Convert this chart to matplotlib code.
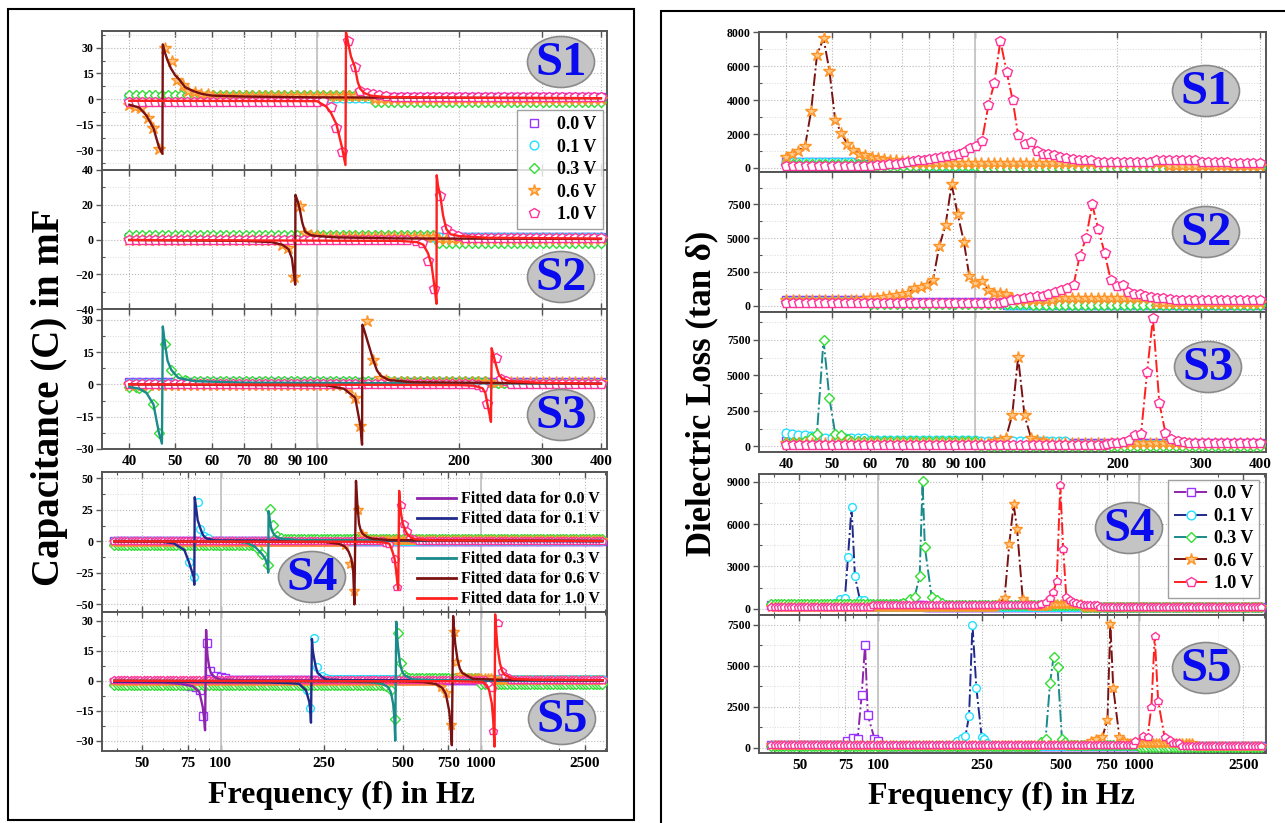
import numpy as np
import matplotlib
matplotlib.use('Agg')
import matplotlib.pyplot as plt
from matplotlib.patches import Ellipse, Rectangle
from matplotlib.lines import Line2D
from matplotlib.ticker import FixedLocator, NullFormatter, FixedFormatter

W, H = 1285, 823
plt.rcParams['font.family'] = ['Liberation Serif', 'DejaVu Serif']
plt.rcParams['font.weight'] = 'bold'

# ---------------- common categories / styles ----------------
voltages = ['0.0 V', '0.1 V', '0.3 V', '0.6 V', '1.0 V']
marker_shapes = ['s', 'o', 'D', '*', 'p']
marker_edge = ['#9933ff', '#22e0ff', '#33dd33', '#ff9326', '#ff3399']
marker_face = ['white', 'white', 'white', '#ffc98a', 'white']
line_colors = ['#8e24aa', '#1f2a8a', '#1b8a8a', '#7a1212', '#ff2020']

# measurement sweeps (x positions of the recorded points)
sweep_top = np.geomspace(40, 400, 74)
sweep_bot = np.geomspace(39, 2930, 150)

top_ticks = [40, 50, 60, 70, 80, 90, 100, 200, 300, 400]
top_labels = ['40', '50', '60', '70', '80', '90', '100', '200', '300', '400']
bot_ticks = [50, 75, 100, 250, 500, 750, 1000, 2500]
bot_labels = ['50', '75', '100', '250', '500', '750', '1000', '2500']
bot_minor = [40, 60, 70, 80, 90, 200, 300, 400, 600, 700, 800, 900, 2000, 3000]

# ================= LEFT: Capacitance (mF) =================
# baseline levels per voltage: (f_from, f_to, level)
capS1_base = [[(0, 1e4, 1.2)], [(0, 1e4, 0.8)], [(0, 130, 2.2), (130, 1e4, -1.8)],
              [(0, 130, 2.0), (130, 1e4, 0.2)], [(0, 102, -1.8), (102, 1e4, 1.0)]]
capS1_06 = [(40, -3.5), (41.1, -4.5), (42.3, -5), (43.8, -11), (45.0, -17), (46.2, -29), (47.7, 30),
            (49.3, 22), (50.4, 11), (51.9, 8), (53.2, 5), (55.0, 4), (56.8, 3.2), (58.6, 2.8)]
capS1_10 = [(103, -1.4), (106.9, -4.7), (109.9, -16.8), (112.8, -31.2), (116.4, 34), (120.3, 18.8),
            (123.5, 4.7), (127.5, 3.5), (131.5, 3.0), (135.5, 2.5), (140, 2.0)]
fitS1_06 = [(40, -3.3), (42, -5), (43.5, -9.7), (45, -17), (46.2, -28), (47.0, -32), (47.1, 32), (47.6, 27),
            (48.3, 22), (49, 18), (50, 14), (51.2, 11), (52.5, 7), (54.6, 4.7), (57, 3), (60, 2), (70, 1.5),
            (100, 1), (400, 0.5)]
fitS1_10 = [(40, -1), (100, -1.2), (104.5, -4.3), (107, -8), (109.9, -14.6), (112.8, -27.5), (114.9, -38.6),
            (115.2, 39), (116.4, 33), (118, 25), (120.3, 18.8), (122, 10), (123.5, 6), (126, 3.5), (130, 2),
            (140, 1.2), (200, 0.8), (400, 0.5)]

capS2_base = [[(0, 1e4, 1.5)], [(0, 1e4, 1.2)], [(0, 180, 2.6), (180, 1e4, -2.0)],
              [(0, 84, -0.5), (84, 180, 1.5), (180, 1e4, 0.5)], [(0, 165, -0.3), (165, 1e4, 1.0)]]
capS2_06 = [(84.4, -3), (87, -5), (89.3, -21.6), (92, 19.4), (94.3, 3.7), (97, 2.5), (100, 2)]
capS2_10 = [(161.8, -1), (166.7, -2), (171.8, -12.6), (177, -28.5), (182.6, 25.1), (188, 6), (193, 3), (199, 2)]
fitS2_06 = [(40, -0.3), (70, -0.8), (80, -1.5), (84.4, -3), (87, -5.5), (88.5, -11), (89.3, -20), (89.9, -26),
            (90.0, 25.7), (91, 22), (92, 17), (93, 10), (94.3, 4.5), (97, 2.5), (100, 2), (110, 1.2),
            (150, 0.6), (400, 0.3)]
fitS2_10 = [(40, -0.3), (150, -0.8), (163, -1.5), (168, -3), (172, -8), (175, -15), (177, -25), (178.5, -33),
            (179.2, -37), (179.4, 37), (180.5, 31), (182.6, 25), (185, 14), (188, 6), (192, 3), (200, 2),
            (230, 1), (400, 0.5)]

capS3_base = [[(0, 1e4, 1.0)], [(0, 1e4, 0.8)], [(0, 42, -1), (42, 230, 1.5), (230, 1e4, 0.5)],
              [(0, 117, -0.3), (117, 1e4, 1.0)], [(0, 1e4, 0.0)]]
capS3_03 = [(42, -1.5), (43.5, -1.9), (45, -9.3), (46.2, -22.4), (47.6, 18.8), (49.1, 6.7), (50.8, 3), (52.5, 2)]
capS3_06 = [(117, -1.5), (120.5, -6.2), (123.6, -19.4), (127.6, 29.2), (131.7, 11.3), (136, 3), (140, 2)]
capS3_10 = [(219, -0.5), (224.4, -1.1), (229.8, -9.2), (239.2, 12.1), (245, 2.5), (252, 1.5)]
fitS3_03 = [(40, -1.2), (42, -2), (43.5, -4), (45, -9.3), (46.2, -22.4), (46.9, -27.5), (47.1, 26.9),
            (47.6, 18.8), (48.2, 11), (49.1, 6.7), (50.8, 3), (55, 1.5), (70, 0.8), (400, 0.3)]
fitS3_06 = [(40, 0), (105, -0.5), (114, -2), (120.5, -6.2), (123.6, -19.4), (124.6, -28), (124.8, 27.7),
            (126, 25), (128.4, 19), (131.7, 11), (134, 6.5), (136.5, 4), (142, 2), (160, 1), (400, 0.3)]
fitS3_10 = [(40, 0), (200, -0.3), (215, -0.6), (224.4, -1.8), (227.5, -4), (229.8, -9.2), (232, -13.5),
            (233.8, -17.4), (234.6, 16.8), (237, 13), (240.2, 8.2), (243, 4.5), (246.6, 2.8), (255, 1.5),
            (300, 0.7), (400, 0.3)]

capS4_base = [[(0, 1e4, 0.5)], [(0, 1e4, 0.3)], [(0, 150, -2.5), (150, 1e4, 2.2)],
              [(0, 320, -0.3), (320, 1e4, 0.8)], [(0, 1e4, 0.0)]]
capS4_01 = [(70, -2), (72.5, -3.5), (75.4, -16), (78.8, -28.4), (82.1, 31.2), (83.6, 10.2), (86.5, 4), (89.5, 2.5)]
capS4_03 = [(134, -3), (138, -5), (144, -10), (151.4, -18.7), (155.2, 26), (159.3, 12.8), (164, 4), (170, 2.5)]
capS4_06 = [(300, -3), (314, -18), (324, -39), (336, 25), (348, 6), (360, 3)]
capS4_10 = [(430, -1), (445, -2), (466, -14), (477, -36), (492, 29), (506, 14), (520, 8), (535, 3), (555, 2)]
fitS4_01 = [(39, 0), (60, -0.5), (66, -1.5), (72.5, -6.8), (75.4, -16), (78.8, -28.4), (79.2, -34.4),
            (79.5, 35), (80.3, 28), (81.6, 16.8), (83.6, 10.2), (85.5, 5), (87.9, 2.4), (95, 0.8), (2930, 0)]
fitS4_03 = [(39, 0.3), (110, 0), (125, -1), (135, -4), (144, -10), (148.5, -14), (151.4, -18.7), (152.3, -24.7),
            (152.8, 24), (155.2, 14), (157, 9), (160.7, 5), (166, 3), (173, 2), (200, 1), (2930, 0.5)]
fitS4_06 = [(39, 0), (250, -0.5), (285, -2), (300, -4), (310, -8), (318, -14), (323, -24), (326.4, -50),
            (331, 48), (335, 30), (340, 14), (345, 9), (351, 6), (365, 3.5), (383, 2), (450, 1), (2930, 0.3)]
fitS4_10 = [(39, 0), (380, -0.3), (420, -0.8), (445, -1.8), (457, -8), (466, -14), (471, -21.5), (477, -32),
            (481, -38), (485, 40), (488, 32), (492.6, 22.6), (501.6, 13.5), (512, 8.5), (522, 5.6), (540, 3),
            (562, 1.7), (650, 0.8), (2930, 0.3)]

capS5_base = [[(0, 70, -0.8), (70, 1e4, 0.5)], [(0, 205, -1.5), (205, 1e4, 1.0)],
              [(0, 430, -2.0), (430, 1000, 1.5), (1000, 1e4, -1.5)],
              [(0, 700, 0.0), (700, 1100, 1.5), (1100, 1e4, 0.3)], [(0, 1e4, 0.5)]]
capS5_00 = [(70, -1.5), (73.6, -2.2), (77, -2.7), (80.5, -3), (83.6, -4.7), (85.3, -17.4), (88.4, 19.1),
            (91.2, 4.9), (96, 2.4), (100, 1.8), (104, 1.2)]
capS5_01 = [(205, -2.5), (214, -4.7), (220, -13.4), (229, 21.3), (235.5, 6.7), (245, 2.5), (255, 1.5)]
capS5_03 = [(430, -2.5), (451, -4.7), (467, -19.4), (481, 23.8), (492, 8.7), (505, 3), (515, 2)]
capS5_06 = [(700, -3), (733, -6.3), (766, -22.3), (789, 24.6), (805, 9.5), (830, 3), (860, 2)]
capS5_10 = [(1060, -1.5), (1101, -3.8), (1114, -25), (1167, 29.1), (1202, 4.9), (1240, 2.5), (1280, 1.5)]
fitS5_00 = [(39, -0.5), (60, -0.8), (70, -1.5), (78.1, -2.7), (82.8, -5.6), (85.3, -13), (86.4, -19), (87.1, -24.8),
            (87.9, 25.5), (88.5, 17), (89.1, 12.1), (90.3, 7), (91.8, 3.7), (95, 1.8), (98.9, 0.7), (120, 0.3),
            (2930, 0.2)]
fitS5_01 = [(39, -0.3), (150, -0.8), (185, -1.2), (200, -1.5), (212.7, -4.7), (219, -10.6), (221, -15),
            (222.3, -21), (224.2, 21), (226, 15), (229, 10.7), (232, 7), (235.6, 4), (245, 2), (254, 0.7),
            (300, 0.3), (2930, 0)]
fitS5_03 = [(39, 0), (300, -0.3), (380, -0.8), (419, -1.6), (440, -3.2), (451, -5.8), (460, -11.6), (465, -19),
            (468.5, -30), (472.7, 29.6), (476, 23), (480, 17.1), (488.5, 8.7), (497, 5), (507, 2.9), (546, 0.7),
            (700, 0.3), (2930, 0.2)]
fitS5_06 = [(39, 0), (500, -0.3), (600, -0.6), (671, -1.6), (710, -3.5), (733, -6.6), (755, -15), (765, -23),
            (773, -32.3), (782, 32.5), (789, 25), (796, 18.8), (813, 10.5), (830, 6), (850, 3.8), (929, 1),
            (1200, 0.5), (2930, 0.3)]
fitS5_10 = [(39, 0), (800, -0.2), (1014, -0.5), (1050, -2), (1075, -4.7), (1101, -11.4), (1115, -20), (1127, -33),
            (1134, 33.3), (1145, 25), (1156, 17.4), (1182, 9), (1205, 5), (1227, 3.2), (1321, 1), (1600, 0.5),
            (2930, 0.3)]

# ================= RIGHT: Dielectric loss (tan delta) =================
lossS1_base = [[(0, 55, 380), (55, 75, 250), (75, 1e4, 60)], [(0, 55, 330), (55, 80, 200), (80, 1e4, 80)],
               [(0, 60, 250), (60, 100, 120), (100, 1e4, 20)], [(0, 250, 300), (250, 1e4, 120)],
               [(0, 62, 110), (176, 240, 380), (240, 300, 450), (300, 350, 380), (350, 1e4, 280)]]
lossS1_06 = [(40, 650), (41.1, 850), (42.3, 1000), (43.8, 1300), (45.1, 3370), (46.4, 6660), (47.9, 7645),
             (49.3, 5730), (50.7, 2820), (52.2, 2070), (53.8, 1400), (55.4, 1050), (57, 850), (58.7, 750),
             (60.5, 650), (62.3, 600), (64.2, 550), (66.1, 500), (68.1, 450), (70.1, 420), (72.2, 400)]
lossS1_10 = [(62, 150), (64, 180), (66, 220), (68, 260), (70, 300), (72, 350), (74, 400), (76, 450), (78, 500),
             (80, 550), (82.5, 600), (85, 650), (87.5, 700), (90, 750), (92.5, 800), (95, 950), (97.5, 1170),
             (100.5, 1300), (103.5, 1600), (106.8, 3700), (109.9, 4985), (113.2, 7505), (116.7, 5670),
             (120.2, 4000), (123.4, 1930), (127.5, 1400), (131.6, 1540), (135, 1000), (139, 850), (143, 850),
             (147, 750), (151, 650), (156, 600), (161, 550), (166, 500), (171, 480), (176, 450)]

lossS2_base = [[(0, 65, 420), (65, 115, 250), (115, 1e4, 80)], [(0, 65, 380), (65, 115, 220), (115, 1e4, 60)],
               [(0, 60, 300), (60, 130, 150), (130, 1e4, 20)],
               [(0, 56, 400), (120, 150, 450), (150, 235, 600), (235, 1e4, 200)],
               [(0, 115, 180), (258, 1e4, 450)]]
lossS2_06 = [(56, 450), (58, 500), (60, 550), (62, 600), (64, 650), (66, 700), (68, 800), (70, 850), (72.3, 950),
             (74.5, 1300), (76.8, 1400), (79.2, 1550), (81.6, 1920), (84.1, 4425), (86.7, 5970), (89.3, 9000),
             (92, 6760), (94.8, 4740), (97.3, 2210), (100.3, 1670), (103.5, 1850), (106.7, 1180), (110, 930),
             (113, 930), (116.6, 850), (120, 560)]
lossS2_10 = [(115, 300), (119, 400), (123, 480), (127, 550), (131, 650), (135, 700), (139, 750), (143, 850),
             (147.5, 1000), (152, 1150), (156.9, 1300), (161.6, 1550), (166.5, 3690), (171.7, 4990),
             (176.9, 7500), (182.3, 5650), (187.9, 3930), (193.6, 1920), (199.6, 1470), (205.7, 1550),
             (211, 1000), (217, 900), (223, 850), (229, 750), (236, 650), (243, 600), (250, 550), (258, 500)]

lossS3_base = [[(0, 60, 350), (60, 1e4, 200)], [(46.5, 60, 620), (60, 100, 450), (100, 160, 350), (160, 1e4, 150)],
               [(0, 43.8, 300), (54, 100, 350), (100, 1e4, 50)], [(0, 110, 250), (139, 1e4, 200)],
               [(0, 190, 120), (276, 1e4, 200)]]
lossS3_01 = [(40, 970), (41.1, 850), (42.3, 800), (43.8, 800), (45.1, 750), (46.4, 700)]
lossS3_03 = [(43.8, 400), (45.1, 600), (46.4, 900), (47.9, 7500), (49.3, 3375), (50.7, 900), (52.2, 800), (54, 500)]
lossS3_06 = [(110, 400), (113, 450), (116.3, 600), (119.9, 2190), (123.4, 6275), (127.3, 2190), (131.4, 600),
             (135, 450), (139, 350)]
lossS3_10 = [(190, 180), (195, 220), (200, 260), (206, 300), (212, 450), (218, 800), (224.4, 900), (231.1, 5260),
             (237.7, 9035), (245.3, 3020), (252.7, 950), (260, 500), (268, 350), (276, 300)]

lossS4_base = [[(0, 150, 250), (150, 1e4, 100)], [(0, 68, 250), (92, 1e4, 100)],
               [(0, 125, 300), (175, 600, 250), (600, 1e4, 150)],
               [(0, 290, 150), (370, 450, 200), (450, 600, 350), (600, 1e4, 100)],
               [(0, 95, 120), (95, 420, 250), (590, 700, 250), (700, 1e4, 100)]]
lossS4_01 = [(68, 400), (71.3, 700), (74.6, 735), (76.7, 3675), (79.1, 7205), (81.5, 2310), (85.2, 615),
             (88.4, 600), (92, 350)]
lossS4_03 = [(125, 400), (132, 700), (138, 850), (144.2, 2310), (147.9, 9040), (150.9, 4380), (160.3, 805),
             (167.6, 600), (175, 400)]
lossS4_06 = [(290, 400), (304.6, 730), (317.5, 4570), (330, 7395), (340, 5680), (357.7, 660), (370, 400)]
lossS4_10 = [(420, 300), (437.5, 450), (455, 730), (467.7, 1160), (482.7, 1960), (497.7, 8740), (511, 4215),
             (525, 800), (540, 650), (556, 500), (572, 400), (590, 300)]

lossS5_base = [[(0, 76, 150), (100, 1e4, 120)], [(0, 200, 150), (262, 1e4, 120)],
               [(0, 420, 100), (520, 1000, 150), (1000, 1e4, 50)],
               [(0, 650, 150), (870, 1600, 250), (1600, 1e4, 80)],
               [(0, 960, 150), (1304, 1450, 300), (1450, 1e4, 80)]]
lossS5_00 = [(76, 400), (80.3, 600), (83.5, 550), (86.5, 3210), (89.1, 6275), (91.3, 1980), (96.8, 550), (99.6, 400)]
lossS5_01 = [(200, 400), (209, 600), (215.8, 690), (222.8, 1940), (229.6, 7520), (237.6, 3660), (249, 650),
             (254, 550), (262, 300)]
lossS5_03 = [(420, 350), (437.5, 550), (455, 3965), (469, 5520), (486, 4900), (505, 550), (520, 350)]
lossS5_06 = [(650, 400), (682, 500), (721, 650), (754.3, 1675), (774, 7565), (793.6, 3660), (838, 650), (870, 400)]
lossS5_10 = [(960, 400), (1031, 700), (1074, 650), (1111, 2490), (1144, 6830), (1179, 2840), (1248, 650), (1304, 450)]

# y axis settings
cap_yticks = [[-30, -15, 0, 15, 30], [-40, -20, 0, 20, 40], [-30, -15, 0, 15, 30],
              [-50, -25, 0, 25, 50], [-30, -15, 0, 15, 30]]
cap_ylims = [(-41.5, 40), (-40, 40), (-30, 35), (-56, 55), (-35.2, 34.5)]
loss_yticks = [[0, 2000, 4000, 6000, 8000], [0, 2500, 5000, 7500], [0, 2500, 5000, 7500],
               [0, 3000, 6000, 9000], [0, 2500, 5000, 7500]]
loss_ylims = [(-254, 8000), (-440, 9880), (-420, 9480), (-445, 9520), (-350, 8110)]


def build(sweep, base, pts):
    if pts:
        lo = min(p[0] for p in pts) / 1.012
        hi = max(p[0] for p in pts) * 1.012
    else:
        lo = hi = -1.0
    out = []
    for f in sweep:
        if lo <= f <= hi:
            continue
        for a, b, lev in base:
            if a <= f < b:
                out.append((f, lev))
                break
    out += list(pts)
    out.sort()
    return [o[0] for o in out], [o[1] for o in out]


fig = plt.figure(figsize=(W / 100, H / 100), dpi=100)
fig.patch.set_facecolor('white')

def fax(x0, y0, x1, y1):
    return fig.add_axes([x0 / W, 1 - y1 / H, (x1 - x0) / W, (y1 - y0) / H])

left_rows = [(30.7, 170), (170, 309), (309, 449), (472, 612), (612, 751)]
right_rows = [(32.3, 172.3), (172.3, 311.7), (311.7, 452.3), (474.3, 615), (615, 753.3)]
axL = [fax(102, a, 607, b) for a, b in left_rows]
axR = [fax(759, a, 1266, b) for a, b in right_rows]


def style(ax, row, yticks, ylim):
    ax.set_xscale('log')
    if row < 3:
        ax.set_xlim(35, 412)
        ax.xaxis.set_major_locator(FixedLocator(top_ticks))
        ax.xaxis.set_minor_locator(FixedLocator([]))
        ax.xaxis.set_major_formatter(FixedFormatter(top_labels) if row == 2 else NullFormatter())
        ax.axvline(100, color='#c4c4c4', lw=1.3, zorder=0.6)
    else:
        ax.set_xlim(35, 3050)
        ax.xaxis.set_major_locator(FixedLocator(bot_ticks))
        ax.xaxis.set_minor_locator(FixedLocator(bot_minor))
        ax.xaxis.set_major_formatter(FixedFormatter(bot_labels) if row == 4 else NullFormatter())
        ax.axvline(100, color='#c4c4c4', lw=1.3, zorder=0.6)
        ax.axvline(1000, color='#c4c4c4', lw=1.3, zorder=0.6)
    ax.xaxis.set_minor_formatter(NullFormatter())
    ax.set_ylim(*ylim)
    ax.yaxis.set_major_locator(FixedLocator(yticks))
    step = yticks[1] - yticks[0]
    ax.yaxis.set_minor_locator(FixedLocator([t + step / 2 for t in yticks[:-1]] +
                                            [yticks[0] - step / 2, yticks[-1] + step / 2]))
    ax.grid(which='major', ls=':', color='#b8b8b8', lw=0.8, zorder=0.5)
    ax.grid(which='minor', axis='y', ls=':', color='#dadada', lw=0.7, zorder=0.5)
    ax.grid(which='minor', axis='x', ls=':', color='#e2e2e2', lw=0.6, zorder=0.5)
    for s in ax.spines.values():
        s.set_color('#555555')
        s.set_linewidth(1.4)
    ax.tick_params(axis='x', which='major', direction='in', top=True, bottom=True, length=4,
                   width=1, color='#555555', labelsize=11, pad=4)
    ax.tick_params(axis='x', which='minor', direction='in', top=True, bottom=True, length=2.5,
                   width=0.8, color='#555555')
    ax.tick_params(axis='y', which='major', direction='out', length=4, width=1, color='#555555',
                   labelsize=8.5, pad=2)
    ax.tick_params(axis='y', which='minor', direction='in', length=2.5, width=0.8, color='#555555')
    ax.set_axisbelow(True)


cap_base = [capS1_base, capS2_base, capS3_base, capS4_base, capS5_base]
cap_pts = [[[], [], [], capS1_06, capS1_10],
           [[], [], [], capS2_06, capS2_10],
           [[], [], capS3_03, capS3_06, capS3_10],
           [[], capS4_01, capS4_03, capS4_06, capS4_10],
           [capS5_00, capS5_01, capS5_03, capS5_06, capS5_10]]
cap_fit = [[None, None, None, fitS1_06, fitS1_10],
           [None, None, None, fitS2_06, fitS2_10],
           [None, None, fitS3_03, fitS3_06, fitS3_10],
           [None, fitS4_01, fitS4_03, fitS4_06, fitS4_10],
           [fitS5_00, fitS5_01, fitS5_03, fitS5_06, fitS5_10]]
loss_base = [lossS1_base, lossS2_base, lossS3_base, lossS4_base, lossS5_base]
loss_pts = [[[], [], [], lossS1_06, lossS1_10],
            [[], [], [], lossS2_06, lossS2_10],
            [[], lossS3_01, lossS3_03, lossS3_06, lossS3_10],
            [[], lossS4_01, lossS4_03, lossS4_06, lossS4_10],
            [lossS5_00, lossS5_01, lossS5_03, lossS5_06, lossS5_10]]

ms_scale = {'s': 0.85, 'o': 0.9, 'D': 0.75, '*': 1.25, 'p': 1.0}

for r in range(5):
    sweep = sweep_top if r < 3 else sweep_bot
    ms = 7.0 if r < 3 else 6.2
    # left
    ax = axL[r]
    style(ax, r, cap_yticks[r], cap_ylims[r])
    for k in range(5):
        f, v = build(sweep, cap_base[r][k], cap_pts[r][k])
        m = marker_shapes[k]
        ax.plot(f, v, ls='none', marker=m, ms=ms * ms_scale[m], mec=marker_edge[k], mfc=marker_face[k],
                mew=1.0, zorder=3 + 0.1 * k)
    for k in range(5):
        fit = cap_fit[r][k]
        if fit:
            ax.plot([p[0] for p in fit], [p[1] for p in fit], color=line_colors[k], lw=1.7, zorder=5 + 0.1 * k)
    # right
    ax = axR[r]
    style(ax, r, loss_yticks[r], loss_ylims[r])
    for k in range(5):
        f, v = build(sweep, loss_base[r][k], loss_pts[r][k])
        m = marker_shapes[k]
        ax.plot(f, v, ls='-.', color=line_colors[k], lw=1.4, marker=m, ms=ms * ms_scale[m],
                mec=marker_edge[k], mfc=marker_face[k], mew=1.0, zorder=3 + 0.1 * k)

# ---- outer frames ----
fig.add_artist(Rectangle((7.5 / W, 1 - 820 / H), (634 - 7.5) / W, (820 - 9) / H, transform=fig.transFigure,
                         fill=False, edgecolor='black', lw=1.5))
fig.add_artist(Rectangle((661 / W, 1 - 840 / H), (1300 - 661) / W, (840 - 10.5) / H, transform=fig.transFigure,
                         fill=False, edgecolor='black', lw=1.5, clip_on=False))

# ---- axis labels ----
fig.text(50 / W, 1 - 397 / H, 'Capacitance (C) in mF', rotation=90, ha='center', va='center',
         fontsize=28, fontweight='bold')
fig.text(702 / W, 1 - 393 / H, 'Dielectric Loss (tan δ)', rotation=90, ha='center', va='center',
         fontsize=25, fontweight='bold')
fig.text(341 / W, 1 - 795 / H, 'Frequency (f) in Hz', ha='center', va='center', fontsize=23, fontweight='bold')
fig.text(1001 / W, 1 - 796 / H, 'Frequency (f) in Hz', ha='center', va='center', fontsize=23, fontweight='bold')

# ---- sample badges ----
badges = ['S1', 'S2', 'S3', 'S4', 'S5']
badge_left = [(561, 62), (561, 277), (561, 415), (312, 577), (562, 719)]
badge_right = [(1206, 91), (1206, 232), (1208, 367), (1129, 528), (1206, 668)]
for name, (cx, cy) in list(zip(badges, badge_left)) + list(zip(badges, badge_right)):
    fig.add_artist(Ellipse((cx / W, 1 - cy / H), 67 / W, 51 / H, transform=fig.transFigure,
                           facecolor='#c4c4c4', edgecolor='#8a8a8a', lw=1.2, zorder=20))
    fig.text(cx / W, 1 - (cy + 1) / H, name, ha='center', va='center', fontsize=35, fontweight='bold',
             color='#0a0aee', zorder=21)

# ---- legends ----
mk_handles = [Line2D([], [], ls='none', marker=marker_shapes[k], ms=7 * ms_scale[marker_shapes[k]],
                     mec=marker_edge[k], mfc=marker_face[k], mew=1.0) for k in range(5)]
legA = fig.legend(mk_handles, voltages, loc='upper right', bbox_to_anchor=(603 / W, 1 - 110 / H),
                  bbox_transform=fig.transFigure, frameon=True, fancybox=False, edgecolor='#888888',
                  prop={'size': 13, 'weight': 'bold'}, handlelength=1.2, handletextpad=0.7,
                  labelspacing=0.3, borderpad=0.35, borderaxespad=0)
legA.set_zorder(30)

fit_handles = [Line2D([], [], color=line_colors[k], lw=2) for k in range(5)]
fit_labels = ['Fitted data for ' + v for v in voltages]
legB = fig.legend(fit_handles[:2], fit_labels[:2], loc='upper left', bbox_to_anchor=(415 / W, 1 - 489 / H),
                  bbox_transform=fig.transFigure, frameon=False, prop={'size': 11.5, 'weight': 'bold'},
                  handlelength=2.4, handletextpad=0.35, labelspacing=0.25, borderpad=0.15, borderaxespad=0)
legC = fig.legend(fit_handles[2:], fit_labels[2:], loc='upper left', bbox_to_anchor=(415 / W, 1 - 549 / H),
                  bbox_transform=fig.transFigure, frameon=False, prop={'size': 11.5, 'weight': 'bold'},
                  handlelength=2.4, handletextpad=0.35, labelspacing=0.25, borderpad=0.15, borderaxespad=0)
legB.set_zorder(30)
legC.set_zorder(30)

ln_handles = [Line2D([], [], ls='-.', color=line_colors[k], lw=1.4, marker=marker_shapes[k],
                     ms=7 * ms_scale[marker_shapes[k]], mec=marker_edge[k], mfc=marker_face[k], mew=1.0)
              for k in range(5)]
legD = fig.legend(ln_handles, voltages, loc='upper right', bbox_to_anchor=(1259 / W, 1 - 480 / H),
                  bbox_transform=fig.transFigure, frameon=True, fancybox=False, edgecolor='#888888',
                  prop={'size': 13, 'weight': 'bold'}, handlelength=1.9, handletextpad=0.35,
                  labelspacing=0.3, borderpad=0.3, borderaxespad=0, numpoints=1)
legD.set_zorder(30)

fig.savefig('out.png', dpi=100, facecolor='white')
